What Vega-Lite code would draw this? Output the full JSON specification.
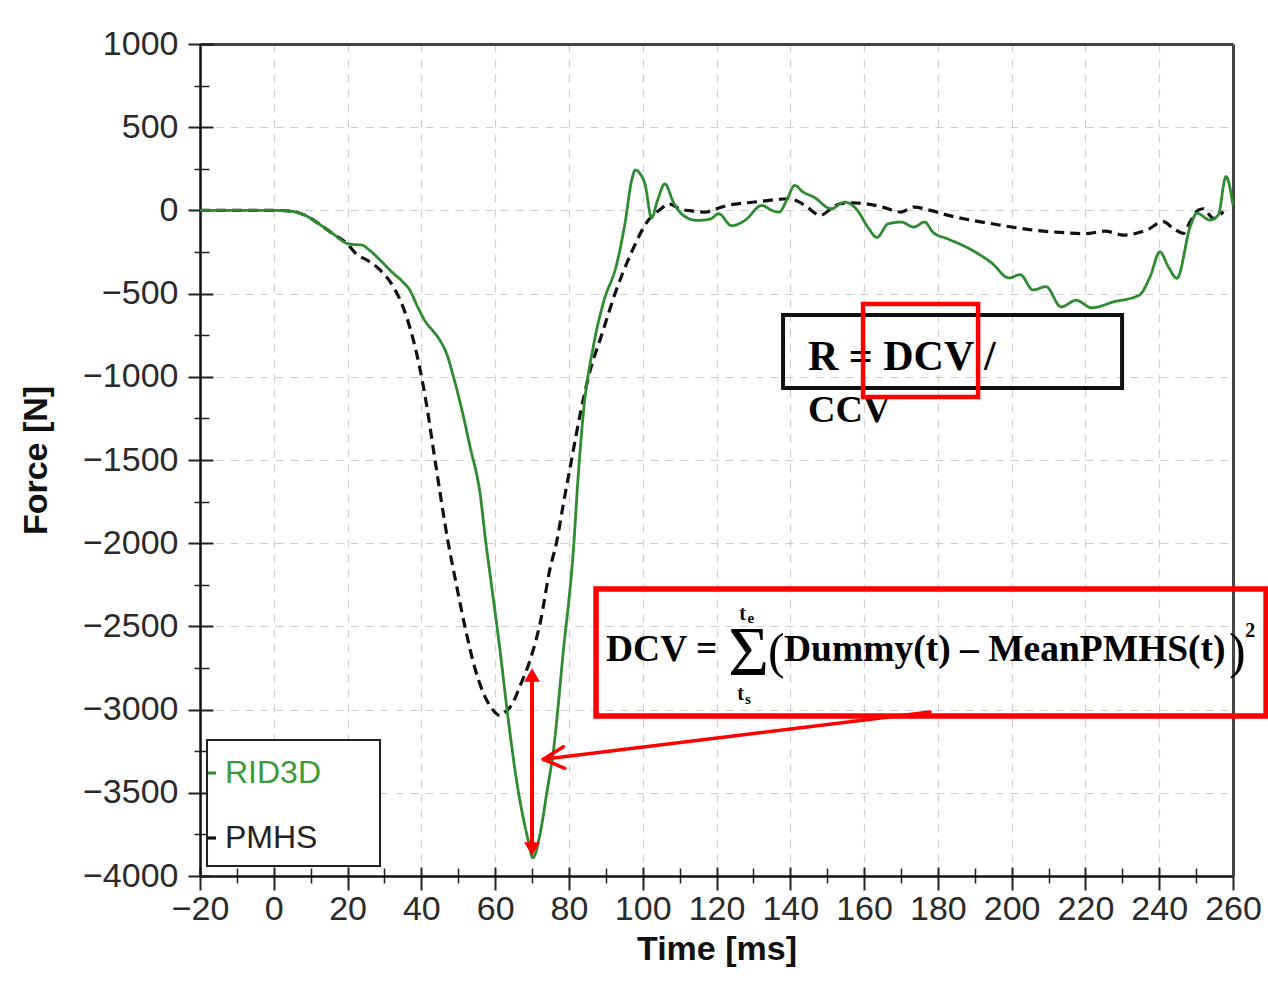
{
  "$schema": "https://vega.github.io/schema/vega-lite/v6.json",
  "width": 1033,
  "height": 832,
  "autosize": {"type": "none"},
  "padding": {"left": 200, "top": 44, "right": 35, "bottom": 106},
  "background": "white",
  "config": {
    "view": {"stroke": null},
    "axis": {
      "labelFont": "Liberation Sans",
      "titleFont": "Liberation Sans",
      "labelColor": "#2a2a2a",
      "titleColor": "#111"
    }
  },
  "datasets": {
    "curves": [
      {"t": -20, "F": 0, "series": "PMHS"}, {"t": -10, "F": 0, "series": "PMHS"}, {"t": 0, "F": 0, "series": "PMHS"},
      {"t": 5, "F": -6, "series": "PMHS"}, {"t": 9, "F": -35, "series": "PMHS"}, {"t": 12.5, "F": -85, "series": "PMHS"},
      {"t": 16, "F": -140, "series": "PMHS"}, {"t": 19.8, "F": -198, "series": "PMHS"}, {"t": 22.5, "F": -265, "series": "PMHS"},
      {"t": 25.2, "F": -298, "series": "PMHS"}, {"t": 28.8, "F": -358, "series": "PMHS"}, {"t": 32.4, "F": -458, "series": "PMHS"},
      {"t": 36, "F": -640, "series": "PMHS"}, {"t": 39.6, "F": -950, "series": "PMHS"}, {"t": 41.5, "F": -1180, "series": "PMHS"},
      {"t": 43.7, "F": -1500, "series": "PMHS"}, {"t": 47.3, "F": -2000, "series": "PMHS"}, {"t": 49.5, "F": -2250, "series": "PMHS"},
      {"t": 51.8, "F": -2500, "series": "PMHS"}, {"t": 54.5, "F": -2750, "series": "PMHS"}, {"t": 56.8, "F": -2900, "series": "PMHS"},
      {"t": 59, "F": -2990, "series": "PMHS"}, {"t": 61.3, "F": -3035, "series": "PMHS"}, {"t": 63, "F": -3010, "series": "PMHS"},
      {"t": 64.8, "F": -2960, "series": "PMHS"}, {"t": 66.7, "F": -2860, "series": "PMHS"}, {"t": 69.5, "F": -2700, "series": "PMHS"},
      {"t": 72.2, "F": -2480, "series": "PMHS"}, {"t": 74.9, "F": -2150, "series": "PMHS"}, {"t": 76.6, "F": -2000, "series": "PMHS"},
      {"t": 78.6, "F": -1750, "series": "PMHS"}, {"t": 80.7, "F": -1500, "series": "PMHS"}, {"t": 83, "F": -1230, "series": "PMHS"},
      {"t": 85.3, "F": -1000, "series": "PMHS"}, {"t": 89, "F": -740, "series": "PMHS"}, {"t": 92.5, "F": -500, "series": "PMHS"},
      {"t": 97, "F": -250, "series": "PMHS"}, {"t": 101, "F": -75, "series": "PMHS"}, {"t": 105, "F": 10, "series": "PMHS"},
      {"t": 107, "F": 40, "series": "PMHS"}, {"t": 110, "F": 10, "series": "PMHS"}, {"t": 114, "F": -5, "series": "PMHS"},
      {"t": 117, "F": -10, "series": "PMHS"}, {"t": 120, "F": 10, "series": "PMHS"}, {"t": 123, "F": 30, "series": "PMHS"},
      {"t": 128, "F": 45, "series": "PMHS"}, {"t": 132.3, "F": 55, "series": "PMHS"}, {"t": 136, "F": 65, "series": "PMHS"},
      {"t": 139.4, "F": 70, "series": "PMHS"}, {"t": 142, "F": 55, "series": "PMHS"}, {"t": 144, "F": 30, "series": "PMHS"},
      {"t": 148.2, "F": -30, "series": "PMHS"}, {"t": 151, "F": 10, "series": "PMHS"}, {"t": 153.5, "F": 40, "series": "PMHS"},
      {"t": 157, "F": 45, "series": "PMHS"}, {"t": 160.5, "F": 40, "series": "PMHS"}, {"t": 165, "F": 20, "series": "PMHS"},
      {"t": 170, "F": -10, "series": "PMHS"}, {"t": 173.5, "F": 20, "series": "PMHS"}, {"t": 178, "F": 0, "series": "PMHS"},
      {"t": 182.9, "F": -30, "series": "PMHS"}, {"t": 188, "F": -55, "series": "PMHS"}, {"t": 194.7, "F": -80, "series": "PMHS"},
      {"t": 200, "F": -100, "series": "PMHS"}, {"t": 206.4, "F": -120, "series": "PMHS"}, {"t": 213, "F": -132, "series": "PMHS"},
      {"t": 219.9, "F": -140, "series": "PMHS"}, {"t": 225.3, "F": -125, "series": "PMHS"}, {"t": 230.3, "F": -148, "series": "PMHS"},
      {"t": 236.6, "F": -118, "series": "PMHS"}, {"t": 241.1, "F": -68, "series": "PMHS"}, {"t": 243.8, "F": -108, "series": "PMHS"},
      {"t": 246.6, "F": -138, "series": "PMHS"}, {"t": 248.4, "F": -68, "series": "PMHS"}, {"t": 250.6, "F": 2, "series": "PMHS"},
      {"t": 252, "F": 10, "series": "PMHS"}, {"t": 254.7, "F": -48, "series": "PMHS"}, {"t": 257.4, "F": -8, "series": "PMHS"},

      {"t": -20, "F": 0, "series": "RID3D"}, {"t": -10, "F": 0, "series": "RID3D"}, {"t": 0, "F": 0, "series": "RID3D"},
      {"t": 5, "F": -6, "series": "RID3D"}, {"t": 9, "F": -35, "series": "RID3D"}, {"t": 12.5, "F": -85, "series": "RID3D"},
      {"t": 16, "F": -140, "series": "RID3D"}, {"t": 19.8, "F": -198, "series": "RID3D"}, {"t": 21.5, "F": -205, "series": "RID3D"},
      {"t": 23.8, "F": -208, "series": "RID3D"}, {"t": 26, "F": -240, "series": "RID3D"}, {"t": 28.8, "F": -298, "series": "RID3D"},
      {"t": 32, "F": -370, "series": "RID3D"}, {"t": 35, "F": -430, "series": "RID3D"}, {"t": 36.9, "F": -480, "series": "RID3D"},
      {"t": 39, "F": -580, "series": "RID3D"}, {"t": 41.4, "F": -678, "series": "RID3D"}, {"t": 43, "F": -720, "series": "RID3D"},
      {"t": 45, "F": -779, "series": "RID3D"}, {"t": 47, "F": -870, "series": "RID3D"}, {"t": 48.7, "F": -1000, "series": "RID3D"},
      {"t": 51, "F": -1200, "series": "RID3D"}, {"t": 53.2, "F": -1420, "series": "RID3D"}, {"t": 55.9, "F": -1700, "series": "RID3D"},
      {"t": 57.5, "F": -2000, "series": "RID3D"}, {"t": 59, "F": -2250, "series": "RID3D"}, {"t": 61.3, "F": -2640, "series": "RID3D"},
      {"t": 63.5, "F": -3050, "series": "RID3D"}, {"t": 65.9, "F": -3440, "series": "RID3D"}, {"t": 68.9, "F": -3780, "series": "RID3D"},
      {"t": 70.2, "F": -3890, "series": "RID3D"}, {"t": 72.2, "F": -3744, "series": "RID3D"}, {"t": 74, "F": -3500, "series": "RID3D"},
      {"t": 75.8, "F": -3245, "series": "RID3D"}, {"t": 78.5, "F": -2645, "series": "RID3D"}, {"t": 81.2, "F": -2043, "series": "RID3D"},
      {"t": 82.5, "F": -1600, "series": "RID3D"}, {"t": 83.9, "F": -1220, "series": "RID3D"}, {"t": 86.6, "F": -819, "series": "RID3D"},
      {"t": 89.3, "F": -557, "series": "RID3D"}, {"t": 93, "F": -318, "series": "RID3D"}, {"t": 95.2, "F": -77, "series": "RID3D"},
      {"t": 97, "F": 180, "series": "RID3D"}, {"t": 98, "F": 243, "series": "RID3D"}, {"t": 99.3, "F": 220, "series": "RID3D"},
      {"t": 100.6, "F": 160, "series": "RID3D"}, {"t": 102.4, "F": -45, "series": "RID3D"}, {"t": 104, "F": 60, "series": "RID3D"},
      {"t": 106, "F": 160, "series": "RID3D"}, {"t": 108.3, "F": 50, "series": "RID3D"}, {"t": 111, "F": -30, "series": "RID3D"},
      {"t": 114.7, "F": -60, "series": "RID3D"}, {"t": 118.3, "F": -52, "series": "RID3D"}, {"t": 120.6, "F": -20, "series": "RID3D"},
      {"t": 124.1, "F": -92, "series": "RID3D"}, {"t": 127.7, "F": -60, "series": "RID3D"}, {"t": 132.3, "F": 30, "series": "RID3D"},
      {"t": 135, "F": 0, "series": "RID3D"}, {"t": 137, "F": -10, "series": "RID3D"}, {"t": 139, "F": 60, "series": "RID3D"},
      {"t": 141.2, "F": 150, "series": "RID3D"}, {"t": 143.5, "F": 110, "series": "RID3D"}, {"t": 146.4, "F": 80, "series": "RID3D"},
      {"t": 151.1, "F": 10, "series": "RID3D"}, {"t": 154.7, "F": 50, "series": "RID3D"}, {"t": 158.2, "F": 0, "series": "RID3D"},
      {"t": 161, "F": -100, "series": "RID3D"}, {"t": 163.5, "F": -162, "series": "RID3D"}, {"t": 166.5, "F": -81, "series": "RID3D"},
      {"t": 170, "F": -70, "series": "RID3D"}, {"t": 173.5, "F": -100, "series": "RID3D"}, {"t": 176.4, "F": -70, "series": "RID3D"},
      {"t": 178.7, "F": -132, "series": "RID3D"}, {"t": 182.8, "F": -172, "series": "RID3D"}, {"t": 188.7, "F": -232, "series": "RID3D"},
      {"t": 194.6, "F": -316, "series": "RID3D"}, {"t": 199.3, "F": -406, "series": "RID3D"}, {"t": 202.3, "F": -386, "series": "RID3D"},
      {"t": 205.8, "F": -478, "series": "RID3D"}, {"t": 209.3, "F": -458, "series": "RID3D"}, {"t": 213.4, "F": -580, "series": "RID3D"},
      {"t": 217.5, "F": -540, "series": "RID3D"}, {"t": 221.7, "F": -585, "series": "RID3D"}, {"t": 227.6, "F": -550, "series": "RID3D"},
      {"t": 234.6, "F": -509, "series": "RID3D"}, {"t": 237.5, "F": -400, "series": "RID3D"}, {"t": 240.2, "F": -249, "series": "RID3D"},
      {"t": 242.5, "F": -340, "series": "RID3D"}, {"t": 244.8, "F": -408, "series": "RID3D"}, {"t": 248.4, "F": -98, "series": "RID3D"},
      {"t": 250.2, "F": -17, "series": "RID3D"}, {"t": 253.8, "F": -58, "series": "RID3D"}, {"t": 256, "F": -28, "series": "RID3D"},
      {"t": 258.1, "F": 203, "series": "RID3D"}, {"t": 260, "F": 32, "series": "RID3D"}
    ],
    "legendbox": [{"x": -18.1, "x2": 28.8, "y": -3182.7, "y2": -3939.9}],
    "blackbox": [{"x": 138.04, "x2": 229.93, "y": -628.6, "y2": -1067.3}],
    "redbox_small": [{"x": 159.72, "x2": 190.9, "y": -562.5, "y2": -1121.4}],
    "redbox_big": [{"x": 87.35, "x2": 268.97, "y": -2275.2, "y2": -3038.5}],
    "arrow_shaft": [{"x": 70, "x2": 70, "y": -2800, "y2": -3830}],
    "pointer": [
      {"x": 177.9, "y": -3014, "x2": 73.06, "y2": -3298.6},
      {"x": 73.06, "y": -3298.6, "x2": 78.5, "y2": -3223},
      {"x": 73.06, "y": -3298.6, "x2": 78.9, "y2": -3352.8}
    ],
    "head_up": [{"x": 70, "y": -2792}],
    "head_down": [{"x": 70, "y": -3837.7}],
    "ratio_text": [{"x": 144.8, "y": -959, "label": "R = DCV /"}],
    "ccv_text": [{"x": 144.8, "y": -1271.6, "label": "CCV"}],
    "formula_main": [
      {"x": 90.06, "y": -2708, "label": "DCV ="},
      {"x": 138.3, "y": -2708, "label": "Dummy(t) – MeanPMHS(t)"}
    ],
    "big_parens": [
      {"x": 133.97, "y": -2750, "label": "("},
      {"x": 258.9, "y": -2750, "label": ")"}
    ],
    "sigma": [{"x": 128.7, "y": -2792, "label": "Σ"}],
    "limits_t": [
      {"x": 127.06, "y": -2461.5, "label": "t"},
      {"x": 126.5, "y": -2942.3, "label": "t"}
    ],
    "limits_sub": [
      {"x": 128.43, "y": -2479.6, "label": "e"},
      {"x": 127.7, "y": -2966.3, "label": "s"}
    ],
    "sup": [{"x": 263.3, "y": -2563.7, "label": "2"}]
  },
  "layer": [
    {
      "data": {"name": "legendbox"},
      "mark": {"type": "rect", "fill": "white", "stroke": "#222", "strokeWidth": 2},
      "encoding": {
        "x": {"field": "x", "type": "quantitative", "scale": {"domain": [-20, 260], "nice": false, "zero": false},
          "axis": {"orient": "bottom", "values": [-20, 0, 20, 40, 60, 80, 100, 120, 140, 160, 180, 200, 220, 240, 260],
            "labels": false, "domain": false, "grid": false, "title": null, "ticks": true, "tickColor": "#222", "tickWidth": 2, "tickSize": 23, "offset": -9}},
        "x2": {"field": "x2"},
        "y": {"field": "y", "type": "quantitative", "scale": {"domain": [-4000, 1000], "nice": false, "zero": false},
          "axis": {"orient": "left", "values": [-4000, -3500, -3000, -2500, -2000, -1500, -1000, -500, 0, 500, 1000],
            "labels": false, "domain": false, "grid": false, "title": null, "ticks": true, "tickColor": "#222", "tickWidth": 2, "tickSize": 25, "offset": -13}},
        "y2": {"field": "y2"}
      }
    },
    {
      "data": {"name": "blackbox"},
      "mark": {"type": "rect", "filled": false, "stroke": "#111", "strokeWidth": 4},
      "encoding": {
        "x": {"field": "x", "type": "quantitative",
          "axis": {"orient": "bottom", "values": [-10, 10, 30, 50, 70, 90, 110, 130, 150, 170, 190, 210, 230, 250],
            "labels": false, "domain": false, "grid": false, "title": null, "ticks": true, "tickColor": "#222", "tickWidth": 1.5, "tickSize": 15, "offset": -8}},
        "x2": {"field": "x2"},
        "y": {"field": "y", "type": "quantitative",
          "axis": {"orient": "left", "values": [-3750, -3250, -2750, -2250, -1750, -1250, -750, -250, 250, 750],
            "labels": false, "domain": false, "grid": false, "title": null, "ticks": true, "tickColor": "#222", "tickWidth": 1.5, "tickSize": 15, "offset": -9}},
        "y2": {"field": "y2"}
      }
    },
    {
      "data": {"name": "curves"},
      "mark": {"type": "line", "interpolate": "monotone"},
      "encoding": {
        "x": {"field": "t", "type": "quantitative",
          "axis": {"orient": "bottom", "values": [-20, 0, 20, 40, 60, 80, 100, 120, 140, 160, 180, 200, 220, 240, 260],
            "format": "d",
            "title": "Time [ms]", "titleFontSize": 34, "titleFontWeight": "bold", "titlePadding": 6,
            "labelFontSize": 34, "labelPadding": 16, "labelFlush": false, "labelOverlap": false,
            "ticks": false, "tickSize": 0, "domain": true, "domainColor": "#111", "domainWidth": 2.5, "grid": false}},
        "y": {"field": "F", "type": "quantitative",
          "axis": {"orient": "left", "values": [-4000, -3500, -3000, -2500, -2000, -1500, -1000, -500, 0, 500, 1000],
            "format": "d",
            "title": "Force [N]", "titleFontSize": 34, "titleFontWeight": "bold", "titlePadding": 29,
            "labelFontSize": 34, "labelPadding": 22, "labelFlush": false, "labelOverlap": false,
            "ticks": false, "tickSize": 0, "domain": true, "domainColor": "#111", "domainWidth": 2.5, "grid": false}},
        "color": {"field": "series", "type": "nominal",
          "scale": {"domain": ["RID3D", "PMHS"], "range": ["#2e8b30", "#111111"]},
          "legend": {"orient": "none", "legendX": -4, "legendY": 713, "title": null, "symbolType": "stroke",
            "symbolSize": 64, "symbolStrokeWidth": 2, "symbolStrokeColor": "#222", "labelFont": "Liberation Sans",
            "labelFontSize": 32, "labelOffset": -3, "rowPadding": 33, "padding": 0,
            "encode": {"labels": {"update": {"fill": {"signal": "datum.label === 'RID3D' ? '#3a9a3a' : '#222222'"}}}}}},
        "strokeDash": {"field": "series", "type": "nominal",
          "scale": {"domain": ["RID3D", "PMHS"], "range": [[1, 0], [10, 6]]}},
        "strokeWidth": {"field": "series", "type": "nominal",
          "scale": {"domain": ["RID3D", "PMHS"], "range": [2.8, 3.2]}, "legend": null}
      }
    },
    {
      "data": {"name": "ratio_text"},
      "mark": {"type": "text", "font": "Liberation Serif", "fontWeight": "bold", "fontSize": 42, "align": "left", "baseline": "alphabetic", "color": "#000"},
      "encoding": {
        "x": {"field": "x", "type": "quantitative",
          "axis": {"orient": "bottom", "values": [0, 20, 40, 60, 80, 100, 120, 140, 160, 180, 200, 220, 240],
            "labels": false, "ticks": false, "domain": false, "title": null, "grid": true, "gridColor": "#cfcfcf", "gridDash": [8, 7], "gridWidth": 1.2}},
        "y": {"field": "y", "type": "quantitative",
          "axis": {"orient": "left", "values": [-3500, -3000, -2500, -2000, -1500, -1000, -500, 0, 500],
            "labels": false, "ticks": false, "domain": false, "title": null, "grid": true, "gridColor": "#cfcfcf", "gridDash": [8, 7], "gridWidth": 1.2}},
        "text": {"field": "label"}
      }
    },
    {
      "data": {"name": "ccv_text"},
      "mark": {"type": "text", "font": "Liberation Serif", "fontWeight": "bold", "fontSize": 38, "align": "left", "baseline": "alphabetic", "color": "#000"},
      "encoding": {
        "x": {"field": "x", "type": "quantitative",
          "axis": {"orient": "top", "values": [], "labels": false, "ticks": false, "grid": false, "title": null, "domain": true, "domainColor": "#444", "domainWidth": 3}},
        "y": {"field": "y", "type": "quantitative",
          "axis": {"orient": "right", "values": [], "labels": false, "ticks": false, "grid": false, "title": null, "domain": true, "domainColor": "#444", "domainWidth": 3}},
        "text": {"field": "label"}
      }
    },
    {
      "data": {"name": "redbox_small"},
      "mark": {"type": "rect", "filled": false, "stroke": "#ff0000", "strokeWidth": 4.5},
      "encoding": {
        "x": {"field": "x", "type": "quantitative", "axis": null},
        "x2": {"field": "x2"},
        "y": {"field": "y", "type": "quantitative", "axis": null},
        "y2": {"field": "y2"}
      }
    },
    {
      "data": {"name": "redbox_big"},
      "mark": {"type": "rect", "filled": false, "stroke": "#ff0000", "strokeWidth": 5.5},
      "encoding": {
        "x": {"field": "x", "type": "quantitative", "axis": null},
        "x2": {"field": "x2"},
        "y": {"field": "y", "type": "quantitative", "axis": null},
        "y2": {"field": "y2"}
      }
    },
    {
      "data": {"name": "arrow_shaft"},
      "mark": {"type": "rule", "color": "#ff0000", "strokeWidth": 4},
      "encoding": {
        "x": {"field": "x", "type": "quantitative", "axis": null},
        "y": {"field": "y", "type": "quantitative", "axis": null},
        "y2": {"field": "y2"}
      }
    },
    {
      "data": {"name": "pointer"},
      "mark": {"type": "rule", "color": "#ff0000", "strokeWidth": 3.5, "strokeCap": "round"},
      "encoding": {
        "x": {"field": "x", "type": "quantitative", "axis": null},
        "y": {"field": "y", "type": "quantitative", "axis": null},
        "x2": {"field": "x2"},
        "y2": {"field": "y2"}
      }
    },
    {
      "data": {"name": "head_up"},
      "mark": {"type": "point", "shape": "triangle-up", "filled": true, "color": "#ff0000", "size": 250, "opacity": 1},
      "encoding": {
        "x": {"field": "x", "type": "quantitative", "axis": null},
        "y": {"field": "y", "type": "quantitative", "axis": null}
      }
    },
    {
      "data": {"name": "head_down"},
      "mark": {"type": "point", "shape": "triangle-down", "filled": true, "color": "#ff0000", "size": 250, "opacity": 1},
      "encoding": {
        "x": {"field": "x", "type": "quantitative", "axis": null},
        "y": {"field": "y", "type": "quantitative", "axis": null}
      }
    },
    {
      "data": {"name": "formula_main"},
      "mark": {"type": "text", "font": "Liberation Serif", "fontWeight": "bold", "fontSize": 37.5, "align": "left", "baseline": "alphabetic", "color": "#000"},
      "encoding": {
        "x": {"field": "x", "type": "quantitative", "axis": null},
        "y": {"field": "y", "type": "quantitative", "axis": null},
        "text": {"field": "label"}
      }
    },
    {
      "data": {"name": "big_parens"},
      "mark": {"type": "text", "font": "Liberation Serif", "fontWeight": "normal", "fontSize": 50, "align": "left", "baseline": "alphabetic", "color": "#000"},
      "encoding": {
        "x": {"field": "x", "type": "quantitative", "axis": null},
        "y": {"field": "y", "type": "quantitative", "axis": null},
        "text": {"field": "label"}
      }
    },
    {
      "data": {"name": "sigma"},
      "mark": {"type": "text", "font": "Liberation Serif", "fontWeight": "normal", "fontSize": 70, "align": "center", "baseline": "alphabetic", "color": "#000"},
      "encoding": {
        "x": {"field": "x", "type": "quantitative", "axis": null},
        "y": {"field": "y", "type": "quantitative", "axis": null},
        "text": {"field": "label"}
      }
    },
    {
      "data": {"name": "limits_t"},
      "mark": {"type": "text", "font": "Liberation Serif", "fontWeight": "bold", "fontSize": 20, "align": "center", "baseline": "alphabetic", "color": "#000"},
      "encoding": {
        "x": {"field": "x", "type": "quantitative", "axis": null},
        "y": {"field": "y", "type": "quantitative", "axis": null},
        "text": {"field": "label"}
      }
    },
    {
      "data": {"name": "limits_sub"},
      "mark": {"type": "text", "font": "Liberation Serif", "fontWeight": "bold", "fontSize": 15, "align": "left", "baseline": "alphabetic", "color": "#000"},
      "encoding": {
        "x": {"field": "x", "type": "quantitative", "axis": null},
        "y": {"field": "y", "type": "quantitative", "axis": null},
        "text": {"field": "label"}
      }
    },
    {
      "data": {"name": "sup"},
      "mark": {"type": "text", "font": "Liberation Serif", "fontWeight": "bold", "fontSize": 20, "align": "left", "baseline": "alphabetic", "color": "#000"},
      "encoding": {
        "x": {"field": "x", "type": "quantitative", "axis": null},
        "y": {"field": "y", "type": "quantitative", "axis": null},
        "text": {"field": "label"}
      }
    }
  ],
  "resolve": {"axis": {"x": "independent", "y": "independent"}}
}
